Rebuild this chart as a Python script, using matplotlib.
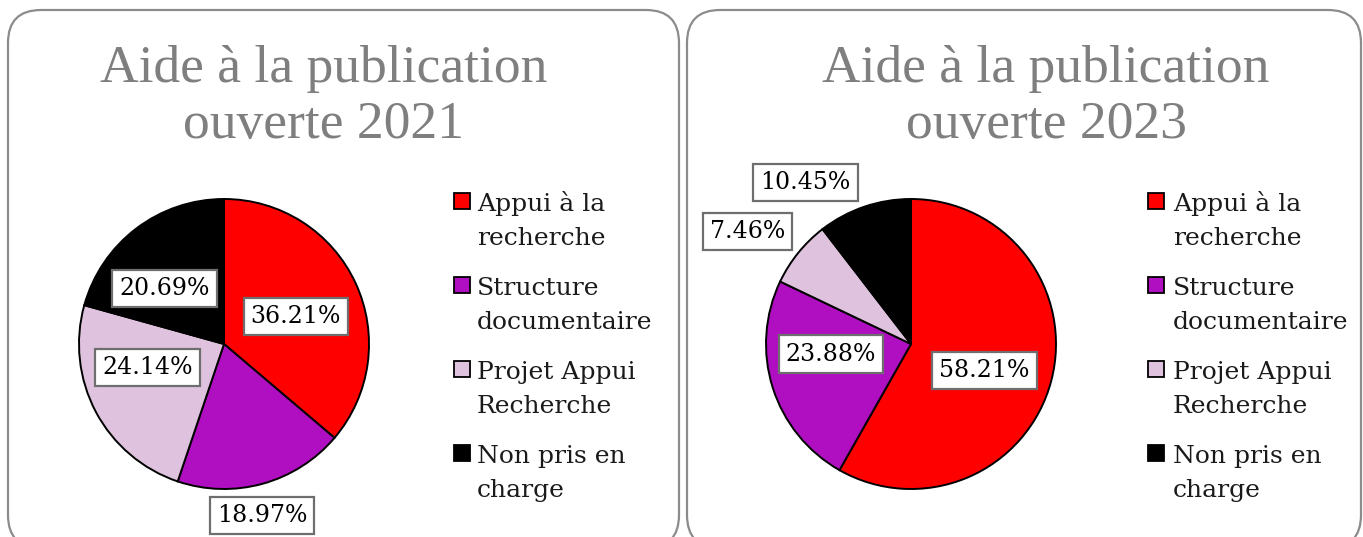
#!/usr/bin/env python
# -*- coding: utf-8 -*-

import numpy as np
import matplotlib
matplotlib.use('Agg')
import matplotlib.pyplot as plt
from matplotlib.patches import FancyBboxPatch, Rectangle
from matplotlib.transforms import IdentityTransform

########################################################################################################################

CATEGORIES = [
    'Appui à la\nrecherche',
    'Structure\ndocumentaire',
    'Projet Appui\nRecherche',
    'Non pris en\ncharge',
]

COULEURS = ['#FF0000', '#AF0FC0', '#DFC3DE', '#000000']

TITRES = ['Aide à la publication\nouverte 2021', 'Aide à la publication\nouverte 2023']

VALEURS_2021 = [21, 11, 14, 12]
VALEURS_2023 = [39, 16, 5, 7]

# placement des étiquettes : (rayon relatif, décalage angulaire en degrés)
ETIQ_R_2021 = [0.53, 1.21, 0.55, 0.56]
ETIQ_DA_2021 = [-3.9, -3.0, -11.1, 9.8]
ETIQ_R_2023 = [0.54, 0.556, 1.37, 1.33]
ETIQ_DA_2023 = [-5.2, -10.3, 4.4, 14.4]

########################################################################################################################
W, H = 1363, 537
DPI = 100

POLICE_TITRE = 'Liberation Serif'
POLICE = 'DejaVu Serif'


def px(x, y):
    """pixels (origine en haut à gauche) -> fraction de figure"""
    return x / W, 1 - y / H


def cadre(fig, x0, x1, y0, y1, rayon=33):
    """Cadre arrondi autour d'un graphique (coordonnées en pixels)"""
    patch = FancyBboxPatch((x0 + rayon, H - y1 + rayon), (x1 - x0) - 2 * rayon, (y1 - y0) - 2 * rayon,
                           boxstyle='round,pad={}'.format(rayon), transform=IdentityTransform(),
                           facecolor='white', edgecolor='#8C8C8C', linewidth=1.6, zorder=0)
    fig.add_artist(patch)


def camembert(fig, cx, cy, r, valeurs, etiq_r, etiq_da):
    left, top = px(cx - r, cy - r)
    ax = fig.add_axes([left, top - 2 * r / H, 2 * r / W, 2 * r / H])
    wedges, _ = ax.pie(valeurs, colors=COULEURS, startangle=90, counterclock=False, radius=1,
                       wedgeprops=dict(edgecolor='black', linewidth=1.4))
    ax.set_xlim(-1, 1)
    ax.set_ylim(-1, 1)
    ax.set_aspect('equal')
    ax.axis('off')

    total = float(sum(valeurs))
    for w, v, rr, da in zip(wedges, valeurs, etiq_r, etiq_da):
        ang = np.deg2rad((w.theta1 + w.theta2) / 2 + da)
        ax.text(rr * np.cos(ang), rr * np.sin(ang), '{:.2f}%'.format(100 * v / total),
                ha='center', va='center', fontsize=17, family=POLICE, color='black',
                bbox=dict(boxstyle='square,pad=0.3', facecolor='white', edgecolor='#6E6E6E', linewidth=1.6),
                clip_on=False, zorder=5)
    return ax


def legende(fig, x_carre, x_texte, y0):
    for i, (nom, couleur) in enumerate(zip(CATEGORIES, COULEURS)):
        y = y0 + i * 84
        fig.add_artist(Rectangle((x_carre, H - y - 16), 16, 16, transform=IdentityTransform(),
                                 facecolor=couleur, edgecolor='black', linewidth=1.3))
        for j, ligne in enumerate(nom.split('\n')):
            fig.text(*px(x_texte, y + 18 + j * 34), ligne, ha='left', va='baseline',
                     fontsize=18, family=POLICE, color='#1A1A1A')


def main():
    fig = plt.figure(figsize=(W / DPI, H / DPI), dpi=DPI)

    cadre(fig, 8, 679, 10, 548)
    cadre(fig, 687, 1361, 10, 548)

    # titres
    for titre, xc in zip(TITRES, [324, 1046]):
        for j, ligne in enumerate(titre.split('\n')):
            fig.text(*px(xc, 82 + j * 56), ligne, ha='center', va='baseline',
                     fontsize=38.5, family=POLICE_TITRE, color='#7F7F7F')

    camembert(fig, 224, 344, 145, VALEURS_2021, ETIQ_R_2021, ETIQ_DA_2021)
    camembert(fig, 911, 344, 145, VALEURS_2023, ETIQ_R_2023, ETIQ_DA_2023)

    legende(fig, 454, 477, 193)
    legende(fig, 1148, 1173, 193)

    fig.savefig('out.png', dpi=DPI)


if __name__ == '__main__':
    main()
